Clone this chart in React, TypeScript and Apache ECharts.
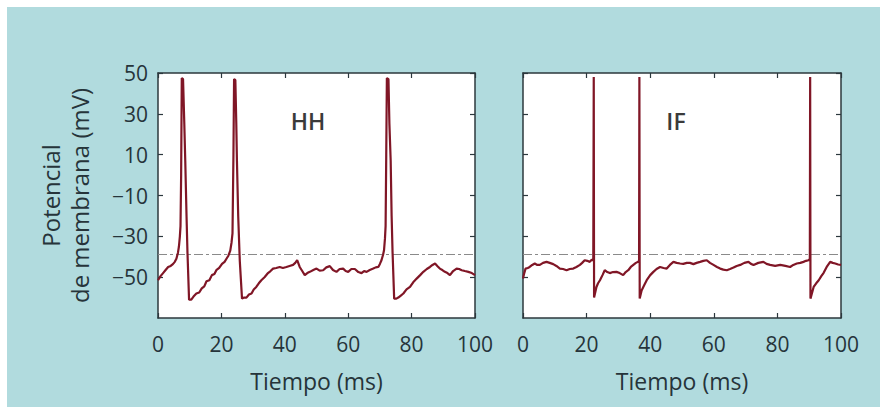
import React, { useEffect, useRef } from 'react';
import * as echarts from 'echarts';

const hhTime = [0, 0.8, 1.6, 2.4, 3.2, 4, 4.7, 5.3, 5.8, 6.3, 6.6, 6.9, 7.1, 7.3, 7.5, 7.9, 8.3, 8.6, 9.0, 9.3, 9.8, 10.5, 11.2, 12.1, 13, 13.8, 14.6, 15.3, 16.2, 17, 17.8, 18.4, 19.3, 20.2, 21, 21.6, 22.2, 22.8, 23.2, 23.5, 23.8, 24, 24.4, 24.7, 24.9, 25.3, 25.8, 26.5, 27.2, 27.9, 28.7, 29.5, 30.2, 31, 31.8, 32.6, 33.6, 34.7, 35.5, 36.3, 37.3, 38.4, 39.4, 40.5, 41.5, 42.6, 43.3, 43.9, 44.7, 45.5, 46.3, 47.1, 47.9, 49, 50, 51, 52.1, 53.1, 54.2, 55.2, 56.3, 57.3, 58.4, 59.2, 60, 61, 62.1, 63.2, 64.2, 65, 65.8, 66.8, 67.9, 68.7, 69.5, 70, 70.5, 71, 71.3, 71.6, 71.8, 72, 72.2, 72.7, 73, 73.4, 73.7, 74, 74.5, 75.2, 75.8, 76.6, 77.4, 78.4, 79.5, 80.5, 81.6, 82.7, 83.7, 84.8, 85.8, 86.6, 87.4, 88.1, 88.9, 89.7, 90.5, 91.3, 92.1, 93.1, 94.2, 95, 95.8, 96.8, 97.9, 99, 100];
const hhVolt = [-51.5, -49.5, -48, -46.5, -45, -44.5, -43.6, -42.5, -41, -38, -35, -30, -25, 0, 47.5, 47, 25, 7, -20, -38, -61, -61, -59.5, -58, -57.5, -55.5, -54.5, -52, -51.5, -49, -48.5, -46.6, -45.5, -43.5, -42.5, -41, -39.5, -37, -33, -28.6, 10, 47, 46.5, 25, 7, -20, -42, -60.5, -60, -60, -58.5, -58, -56, -54.8, -53, -51.5, -50, -48, -47, -45.8, -45.5, -45, -45.5, -45, -44.5, -44, -43, -41.7, -45, -47, -49, -48, -47.4, -46.5, -45.8, -46.8, -46.6, -45.2, -44.6, -46.5, -47.4, -46, -45.8, -47, -47.4, -46, -46, -47.5, -48, -47, -47.4, -46.5, -45.8, -45.2, -45, -43.5, -41.7, -39, -36.8, -31, -25, 10, 47.5, 47, 25, 7, -20, -38, -60.5, -60.5, -60, -59, -58, -56, -54.8, -52.5, -50.7, -49, -47.4, -46, -45, -44, -43.3, -44.5, -45.8, -46.5, -47.4, -48, -49, -47, -45.8, -46, -46.6, -47, -47.4, -48, -49];

const ifTime = [0, 0.4, 0.8, 1.5, 2.1, 2.9, 3.7, 4.5, 5.3, 6.3, 7.4, 8.4, 9.5, 10.5, 11.6, 12.6, 13.7, 14.7, 15.8, 16.8, 17.9, 18.6, 19.4, 20.2, 21, 21.6, 22.1, 22.25, 22.35, 23.1, 23.6, 24.2, 25, 25.7, 26.5, 27.3, 28.3, 29.4, 30.4, 31.5, 32.3, 33.1, 33.9, 34.7, 35.5, 36.2, 36.5, 36.6, 36.7, 37.3, 38.1, 38.9, 40, 41, 42, 43.1, 44.2, 45.2, 46.2, 47.3, 48.3, 49.4, 50.4, 51.5, 52.5, 53.6, 54.6, 55.7, 56.7, 57.8, 58.8, 59.9, 61, 62, 63, 64.1, 65.1, 66.2, 67.2, 68.3, 69.6, 70.9, 71.7, 72.5, 74, 75.6, 76.6, 77.7, 79.3, 80.9, 82.5, 84, 85, 86.1, 87.2, 88.2, 89, 89.8, 90.2, 90.3, 90.4, 91.4, 92.2, 93, 93.8, 94.5, 95.5, 96.6, 97.4, 98.2, 99.1, 100];
const ifVolt = [-50.7, -48, -45.8, -45.5, -45, -44, -43.3, -44, -44, -43, -42.5, -43, -43.6, -44.5, -45.8, -46, -46.6, -46, -45.8, -45, -44, -43, -41.7, -42, -42.5, -41.5, -41.7, 48, -60, -54.8, -53, -51.5, -49, -46.6, -47.5, -48, -47.5, -47.4, -48, -49, -47.5, -46.6, -45, -44, -43, -42.5, -42, 48, -60.5, -56.5, -54, -51.5, -49, -47.4, -46, -45, -45.5, -45.8, -44, -42.5, -43, -43.3, -43.5, -43, -43, -43.6, -43, -42.5, -42, -41.7, -43, -44, -45, -45.8, -46.3, -46.6, -46, -45.3, -44.5, -44, -43, -42.5, -43.5, -44, -43, -42.5, -43.5, -44, -44.5, -44, -44.5, -45, -44, -43.3, -43, -42.5, -42, -41.7, -41, 48, -60.5, -54.8, -53, -51.5, -49.5, -48, -45, -42.5, -43, -43.3, -43.8, -44];

const xTicks = [0, 20, 40, 60, 80, 100];
const yTicks = [-50, -30, -10, 10, 30, 50];
const threshold = -39;
const panelLabels = ['HH', 'IF'];
const xAxisName = 'Tiempo (ms)';
const yAxisName = 'Potencial\nde membrana (mV)';

const FONT = '"Open Sans", "Noto Sans", sans-serif';
const AXIS_COLOR = '#2c383d';
const TEXT_COLOR = '#26343a';
const LINE_COLOR = '#801626';

export default function App() {
  const ref = useRef<HTMLDivElement>(null);
  useEffect(() => {
    document.body.style.margin = '0';
    if (!ref.current) return;
    const chart = echarts.init(ref.current, null, { renderer: 'svg' });
    const grids = [
      { left: 158, top: 73, width: 317, height: 245 },
      { left: 523, top: 73, width: 318, height: 245 },
    ];
    const axisLine = { show: true, onZero: false, lineStyle: { color: AXIS_COLOR, width: 1.5 } };
    const tick = { show: true, inside: true, length: 5, lineStyle: { color: AXIS_COLOR, width: 1.2 } };
    const xAxes: any[] = [];
    const yAxes: any[] = [];
    grids.forEach((_, gi) => {
      xAxes.push({
        type: 'value', gridIndex: gi, min: 0, max: 100, position: 'bottom',
        axisLine, splitLine: { show: false },
        axisTick: { ...tick, customValues: xTicks },
        axisLabel: { customValues: xTicks, color: TEXT_COLOR, fontSize: 21, fontFamily: FONT, margin: 15 },
        name: xAxisName, nameLocation: 'middle', nameGap: 51,
        nameTextStyle: { color: TEXT_COLOR, fontSize: 23, fontFamily: FONT },
      });
      xAxes.push({
        type: 'value', gridIndex: gi, min: 0, max: 100, position: 'top',
        axisLine, splitLine: { show: false },
        axisTick: { ...tick, customValues: xTicks },
        axisLabel: { show: false },
      });
      yAxes.push({
        type: 'value', gridIndex: gi, min: -70, max: 50, position: 'left',
        axisLine, splitLine: { show: false },
        axisTick: { ...tick, customValues: yTicks },
        axisLabel: {
          show: gi === 0, customValues: yTicks, color: TEXT_COLOR, fontSize: 21, fontFamily: FONT, margin: 10,
          formatter: (v: number) => String(v).replace('-', '\u2212'),
        },
        name: gi === 0 ? yAxisName : '', nameLocation: 'middle', nameGap: 64,
        nameTextStyle: { color: TEXT_COLOR, fontSize: 24, fontFamily: FONT, lineHeight: 29 },
      });
      yAxes.push({
        type: 'value', gridIndex: gi, min: -70, max: 50, position: 'right',
        axisLine, splitLine: { show: false },
        axisTick: { ...tick, customValues: yTicks },
        axisLabel: { show: false },
      });
    });
    const mkSeries = (t: number[], v: number[], gi: number) => ({
      type: 'line',
      xAxisIndex: gi * 2,
      yAxisIndex: gi * 2,
      data: t.map((x, i) => [x, v[i]]),
      showSymbol: false,
      symbol: 'none',
      lineStyle: { color: LINE_COLOR, width: 2.2 },
      z: 3,
      markLine: {
        silent: true,
        symbol: 'none',
        label: { show: false },
        lineStyle: { color: '#8a8a8a', type: [9, 3, 3, 3], width: 1 },
        data: [{ yAxis: threshold }],
        z: 2,
      },
    });
    chart.setOption({
      animation: false,
      backgroundColor: '#ffffff',
      grid: grids.map((g) => ({ ...g, show: true, backgroundColor: '#ffffff', borderWidth: 0 })),
      xAxis: xAxes,
      yAxis: yAxes,
      graphic: [
        { type: 'rect', z: -100, silent: true, shape: { x: 7, y: 7, width: 873, height: 400 }, style: { fill: '#b1dbde' } },
        { type: 'text', x: 308, y: 121, style: { text: panelLabels[0], fill: '#3a3a3a', fontSize: 23, fontWeight: 600, fontFamily: FONT, align: 'center', verticalAlign: 'middle' } },
        { type: 'text', x: 676, y: 121, style: { text: panelLabels[1], fill: '#3a3a3a', fontSize: 23, fontWeight: 600, fontFamily: FONT, align: 'center', verticalAlign: 'middle' } },
      ],
      series: [mkSeries(hhTime, hhVolt, 0), mkSeries(ifTime, ifVolt, 1)],
    });
    return () => chart.dispose();
  }, []);
  return <div ref={ref} style={{ width: 880, height: 407 }} />;
}
